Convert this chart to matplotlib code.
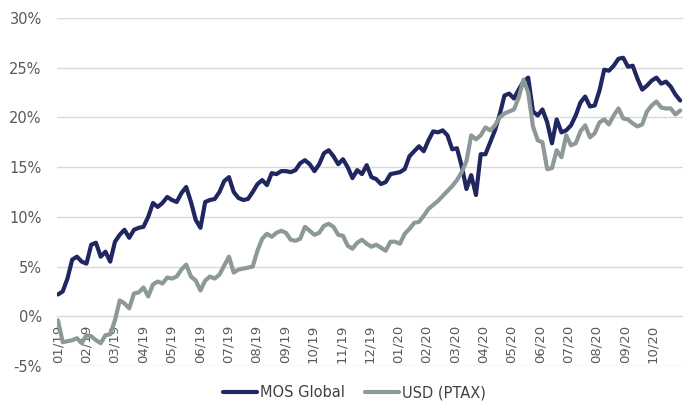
import numpy as np
import matplotlib
matplotlib.use('Agg')
import matplotlib.pyplot as plt
from matplotlib.ticker import FuncFormatter

# cumulative return, %, sampled ~every 4 trading days
mos_global = [2.2, 2.5, 3.8, 5.7, 6.0, 5.5, 5.3, 7.2, 7.4, 6.0,
              6.5, 5.5, 7.5, 8.2, 8.7, 7.9, 8.7, 8.9, 9.0, 10.0,
              11.4, 11.0, 11.4, 12.0, 11.7, 11.5, 12.4, 13.0, 11.5, 9.7,
              8.9, 11.5, 11.7, 11.8, 12.5, 13.6, 14.0, 12.5, 11.9, 11.7,
              11.8, 12.5, 13.3, 13.7, 13.2, 14.4, 14.3, 14.6, 14.6, 14.5,
              14.7, 15.4, 15.7, 15.3, 14.6, 15.3, 16.4, 16.7, 16.1, 15.3,
              15.8, 15.0, 13.9, 14.7, 14.3, 15.2, 14.0, 13.8, 13.3, 13.5,
              14.3, 14.4, 14.5, 14.8, 16.1, 16.6, 17.1, 16.6, 17.7, 18.6,
              18.5, 18.7, 18.2, 16.8, 16.9, 15.1, 12.8, 14.2, 12.2, 16.3,
              16.3, 17.5, 18.7, 20.3, 22.2, 22.4, 21.9, 22.8, 23.6, 24.0,
              20.6, 20.2, 20.8, 19.5, 17.4, 19.8, 18.5, 18.7, 19.2, 20.2,
              21.5, 22.1, 21.1, 21.2, 22.7, 24.8, 24.7, 25.2, 25.9, 26.0,
              25.1, 25.2, 23.9, 22.8, 23.2, 23.7, 24.0, 23.4, 23.6, 23.1,
              22.3, 21.7]
usd_ptax = [-0.4, -2.6, -2.5, -2.4, -2.2, -2.7, -1.9, -2.0, -2.4, -2.7,
            -1.9, -1.8, -0.4, 1.6, 1.3, 0.8, 2.3, 2.4, 2.9, 2.0,
            3.2, 3.5, 3.3, 3.9, 3.8, 4.0, 4.7, 5.2, 4.0, 3.6,
            2.6, 3.6, 4.0, 3.8, 4.2, 5.1, 6.0, 4.4, 4.7, 4.8,
            4.9, 5.0, 6.6, 7.8, 8.3, 8.0, 8.4, 8.6, 8.4, 7.7,
            7.6, 7.8, 9.0, 8.6, 8.2, 8.4, 9.1, 9.3, 9.0, 8.2,
            8.1, 7.1, 6.8, 7.4, 7.7, 7.3, 7.0, 7.2, 6.9, 6.6,
            7.5, 7.5, 7.3, 8.3, 8.8, 9.4, 9.5, 10.1, 10.8, 11.2,
            11.6, 12.1, 12.6, 13.1, 13.7, 14.5, 15.6, 18.2, 17.8, 18.2,
            19.0, 18.7, 19.2, 20.0, 20.4, 20.6, 20.8, 22.0, 23.8, 22.5,
            19.1, 17.7, 17.5, 14.8, 14.9, 16.7, 16.0, 18.2, 17.2, 17.4,
            18.6, 19.2, 18.0, 18.4, 19.5, 19.8, 19.3, 20.2, 20.9, 19.9,
            19.8, 19.4, 19.1, 19.3, 20.6, 21.2, 21.6, 21.0, 20.9, 20.9,
            20.3, 20.7]
month_labels = ['01/19', '02/19', '03/19', '04/19', '05/19', '06/19', '07/19',
                '08/19', '09/19', '10/19', '11/19', '12/19', '01/20', '02/20',
                '03/20', '04/20', '05/20', '06/20', '07/20', '08/20', '09/20',
                '10/20']

pts_per_month = 5.965
x = np.arange(len(mos_global))

fig = plt.figure(figsize=(6.91, 4.09), dpi=100)
ax = fig.add_axes([0.0825, 0.105, 0.906, 0.851])

ax.plot(x, mos_global, color='#1f2660', lw=3.0, label='MOS Global', solid_capstyle='round')
ax.plot(x, usd_ptax, color='#8d9898', lw=3.0, label='USD (PTAX)', solid_capstyle='round')

# x axis sits on the 0% line
for s in ['top', 'right', 'left']:
    ax.spines[s].set_visible(False)
ax.spines['bottom'].set_position(('data', 0))
ax.spines['bottom'].set_visible(False)

ax.set_ylim(-5, 30)
ax.set_xlim(-0.2, 131.6)
ax.set_yticks(np.arange(-5, 31, 5))
ax.yaxis.set_major_formatter(FuncFormatter(lambda v, p: '{:.0f}%'.format(v)))
ax.set_xticks(np.arange(len(month_labels)) * pts_per_month)
ax.set_xticklabels(month_labels)

ax.grid(axis='y', color='#d9d9d9', lw=1.0)
ax.set_axisbelow(True)

ax.tick_params(axis='y', length=0, pad=11, labelsize=10.5, labelcolor='#595959')
ax.tick_params(axis='x', length=0, pad=6, labelsize=9.5, labelcolor='#595959',
               labelrotation=90)

fig.legend(loc='center', bbox_to_anchor=(0.513, 0.04), ncol=2, frameon=False,
           fontsize=10.5, handlelength=2.3, handletextpad=0.2, columnspacing=1.4,
           labelcolor='#404040')

fig.savefig('out.png', dpi=100)
